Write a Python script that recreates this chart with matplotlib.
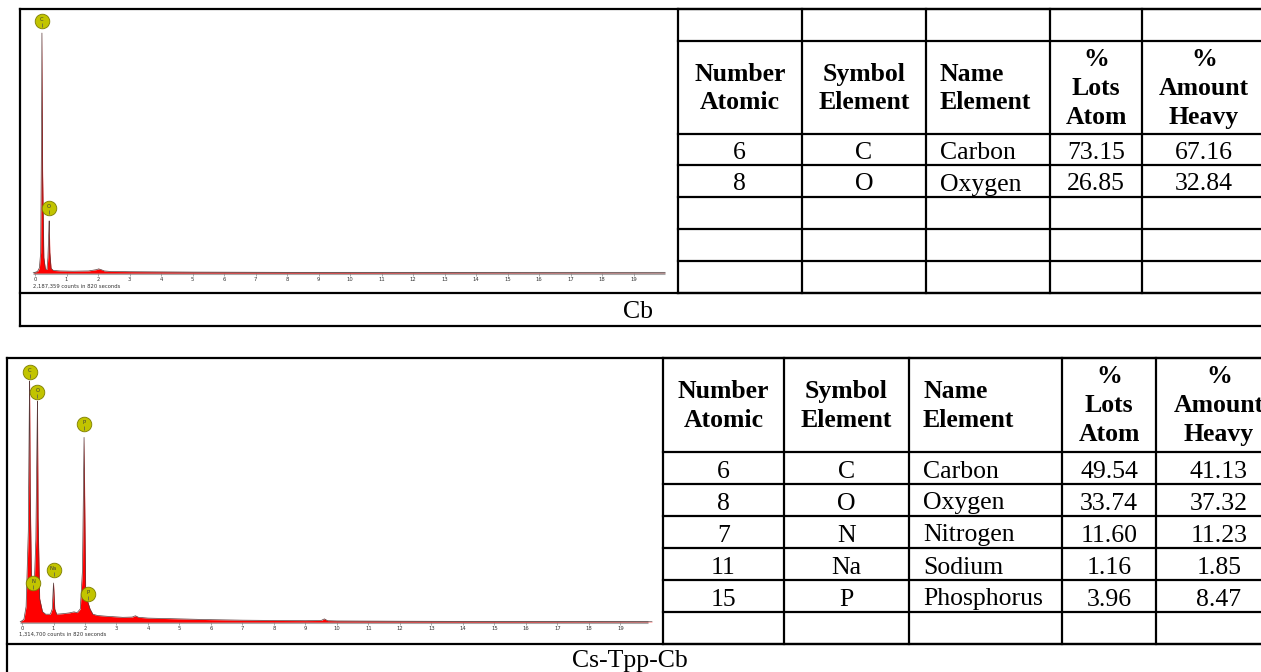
import matplotlib
matplotlib.use('Agg')
import matplotlib.pyplot as plt
from matplotlib.transforms import offset_copy

W, H = 1261, 672
DPI = 100

# ---------- EDS spectrum: Cb ----------
cb_energy = [-0.06, 0.08, 0.14, 0.18, 0.21, 0.22, 0.24, 0.28, 0.33, 0.38, 0.41, 0.44,
             0.45, 0.47, 0.51, 0.58, 0.8, 1.2, 1.7, 1.95, 2.02, 2.1, 2.2, 2.4, 3.0,
             5.0, 8.0, 12.0, 20.0]
cb_counts = [0.0, 0.6, 2.0, 8.0, 60.0, 93.0, 40.0, 6.0, 1.5, 1.4, 6.0, 17.0,
             20.2, 8.0, 1.8, 1.0, 0.8, 0.7, 0.8, 1.3, 1.6, 1.3, 0.8, 0.6, 0.5,
             0.35, 0.25, 0.15, 0.05]
cb_lbl_text = ['C', 'O']
cb_lbl_energy = [0.22, 0.45]
cb_lbl_height = [97.7, 25.2]
cb_counts_note = '2,187,359 counts in 820 seconds'

# ---------- EDS spectrum: Cs-Tpp-Cb ----------
cs_energy = [-0.06, 0.06, 0.13, 0.2, 0.23, 0.24, 0.26, 0.3, 0.34, 0.36, 0.39, 0.44,
             0.48, 0.49, 0.51, 0.56, 0.65, 0.75, 0.9, 0.96, 1.0, 1.04, 1.1, 1.3,
             1.5, 1.65, 1.75, 1.85, 1.92, 1.97, 2.02, 2.09, 2.16, 2.25, 2.4, 2.7,
             3.2, 3.5, 3.6, 3.7, 4.0, 5.0, 6.0, 7.0, 8.0, 9.0, 9.5, 9.6, 9.7,
             10.0, 12.0, 15.0, 20.0]
cs_counts = [0.0, 1.0, 6.0, 35.0, 80.0, 92.7, 50.0, 16.0, 14.5, 15.0, 14.5, 32.0,
             75.0, 85.0, 40.0, 9.0, 4.0, 3.0, 3.0, 5.0, 15.0, 5.0, 3.0, 3.2,
             3.5, 3.9, 3.6, 5.0, 20.0, 71.0, 12.0, 7.7, 5.0, 3.0, 2.5, 2.2,
             1.8, 1.9, 2.4, 1.8, 1.5, 1.2, 0.9, 0.7, 0.6, 0.5, 0.6, 1.2, 0.5,
             0.4, 0.3, 0.2, 0.1]
cs_lbl_text = ['C', 'O', 'N', 'Na', 'P', 'P']
cs_lbl_energy = [0.24, 0.49, 0.36, 1.0, 1.97, 2.09]
cs_lbl_height = [96.2, 88.5, 15.0, 20.0, 76.2, 10.8]
cs_counts_note = '1,314,700 counts in 820 seconds'

# ---------- composition tables ----------
header = ['Number\nAtomic', 'Symbol\nElement', 'Name\nElement', '%\nLots\nAtom', '%\nAmount\nHeavy']

cb_atomic_no = ['6', '8']
cb_symbol = ['C', 'O']
cb_name = ['Carbon', 'Oxygen']
cb_atom_pct = ['73.15', '26.85']
cb_weight_pct = ['67.16', '32.84']

cs_atomic_no = ['6', '8', '7', '11', '15']
cs_symbol = ['C', 'O', 'N', 'Na', 'P']
cs_name = ['Carbon', 'Oxygen', 'Nitrogen', 'Sodium', 'Phosphorus']
cs_atom_pct = ['49.54', '33.74', '11.60', '1.16', '3.96']
cs_weight_pct = ['41.13', '37.32', '11.23', '1.85', '8.47']

SERIF = ['Liberation Serif', 'DejaVu Serif']
TABLE_FS = 18.5
LW = 1.6

fig = plt.figure(figsize=(W / DPI, H / DPI), dpi=DPI)
fig.patch.set_facecolor('white')

# full-figure canvas in pixel units for the frame lines and the tables
canvas = fig.add_axes([0, 0, 1, 1])
canvas.set_xlim(0, W)
canvas.set_ylim(H, 0)
canvas.axis('off')


def px_axes(x0, y0, x1, y1):
    return fig.add_axes([x0 / W, 1 - y1 / H, (x1 - x0) / W, (y1 - y0) / H])


def hline(y, x0, x1):
    canvas.plot([x0, x1], [y, y], color='black', lw=LW, solid_capstyle='projecting')


def vline(x, y0, y1):
    canvas.plot([x, x], [y0, y1], color='black', lw=LW, solid_capstyle='projecting')


def draw_spectrum(ax, energy, counts, lbl_text, lbl_e, lbl_h, axis_start, axis_end):
    ax.fill_between(energy, counts, 0, color='#ff0000', lw=0, zorder=2)
    ax.plot(energy, counts, color='#5a3a3a', lw=0.5, zorder=3)
    ax.plot([axis_start, axis_end], [0, 0], color='#a8a8a8', lw=2.2,
            solid_capstyle='butt', zorder=1, clip_on=False)
    ax.set_ylim(0, 100)
    for s in ax.spines.values():
        s.set_visible(False)
    ax.set_yticks([])
    ax.set_xticks(range(20))
    ax.set_xticklabels([str(i) for i in range(20)], fontsize=3.8,
                       family='DejaVu Sans', color='#333333')
    ax.tick_params(axis='x', length=2, width=0.5, color='#888888', pad=1)
    ax.patch.set_alpha(0)
    tick = offset_copy(ax.transData, fig=fig, x=0, y=-4, units='dots')
    for t, e, h in zip(lbl_text, lbl_e, lbl_h):
        ax.plot(e, h, 'o', ms=10.5, mfc='#c2c400', mec='#7d7d00', mew=0.6,
                clip_on=False, zorder=5)
        ax.plot(e, h, marker='|', ms=2.5, mew=0.5, color='#555555',
                transform=tick, clip_on=False, zorder=6)
        ax.text(e, h - 0.3, t, fontsize=3.8, family='DejaVu Sans', color='#3a3a3a',
                ha='center', va='bottom', zorder=7, clip_on=False)


def draw_table(col_x, row_y, first_row, columns, x_right):
    # horizontal rules
    for y in row_y:
        hline(y, col_x[0], x_right)
    # vertical rules
    for x in col_x[1:]:
        vline(x, row_y[0], row_y[-1])
    # header row sits at index first_row
    ytop, ybot = row_y[first_row], row_y[first_row + 1]
    yc = (ytop + ybot) / 2 + 1
    for j, txt in enumerate(header):
        if j == 2:
            canvas.text(col_x[j] + 14, yc, txt, ha='left', va='center',
                        fontsize=TABLE_FS, family=SERIF, weight='bold',
                        multialignment='left', linespacing=1.32)
        else:
            canvas.text((col_x[j] + col_x[j + 1]) / 2, yc, txt,
                        ha='center', va='center', fontsize=TABLE_FS, family=SERIF,
                        weight='bold', multialignment='center', linespacing=1.32)
    for i in range(len(columns[0])):
        ytop, ybot = row_y[first_row + 1 + i], row_y[first_row + 2 + i]
        yb = (ytop + ybot) / 2 + 9.5
        for j, col in enumerate(columns):
            if j == 2:
                canvas.text(col_x[j] + 14, yb, col[i], ha='left', va='baseline',
                            fontsize=TABLE_FS, family=SERIF)
            else:
                canvas.text((col_x[j] + col_x[j + 1]) / 2, yb, col[i], ha='center',
                            va='baseline', fontsize=TABLE_FS, family=SERIF)


# ================= panel 1: Cb =================
vline(20, 9, 326)
hline(9, 20, W)
hline(293, 20, W)
hline(326, 20, W)
vline(677.5, 9, 293)

ax1 = px_axes(28, 15, 668, 273)
ax1.set_xlim((28 - 35) / 31.5, (668 - 35) / 31.5)
draw_spectrum(ax1, cb_energy, cb_counts, cb_lbl_text, cb_lbl_energy, cb_lbl_height,
              -0.07, 20.0)
canvas.text(33, 286, cb_counts_note, fontsize=3.8, family='DejaVu Sans',
            color='#333333', ha='left', va='center')

draw_table([677.5, 802, 926, 1050, 1142, 1266],
           [9, 41, 134, 165, 197, 229, 261, 293], 1,
           [cb_atomic_no, cb_symbol, cb_name, cb_atom_pct, cb_weight_pct], W)
canvas.text(638, 318, 'Cb', fontsize=TABLE_FS, family=SERIF, ha='center', va='baseline')

# ================= panel 2: Cs-Tpp-Cb =================
vline(6.5, 357.5, H)
hline(357.5, 6.5, W)
hline(644, 6.5, W)
vline(663, 357.5, 644)

ax2 = px_axes(16, 362, 660, 622)
ax2.set_xlim((16 - 22) / 31.5, (660 - 22) / 31.5)
draw_spectrum(ax2, cs_energy, cs_counts, cs_lbl_text, cs_lbl_energy, cs_lbl_height,
              -0.07, 19.87)
canvas.text(19, 634, cs_counts_note, fontsize=3.8, family='DejaVu Sans',
            color='#333333', ha='left', va='center')

draw_table([663, 784, 909, 1062, 1156, 1282],
           [357.5, 452, 484, 516, 548, 580, 612, 644], 0,
           [cs_atomic_no, cs_symbol, cs_name, cs_atom_pct, cs_weight_pct], W)
canvas.text(630, 667, 'Cs-Tpp-Cb', fontsize=TABLE_FS, family=SERIF, ha='center', va='baseline')

fig.savefig('out.png', dpi=DPI, facecolor='white')
